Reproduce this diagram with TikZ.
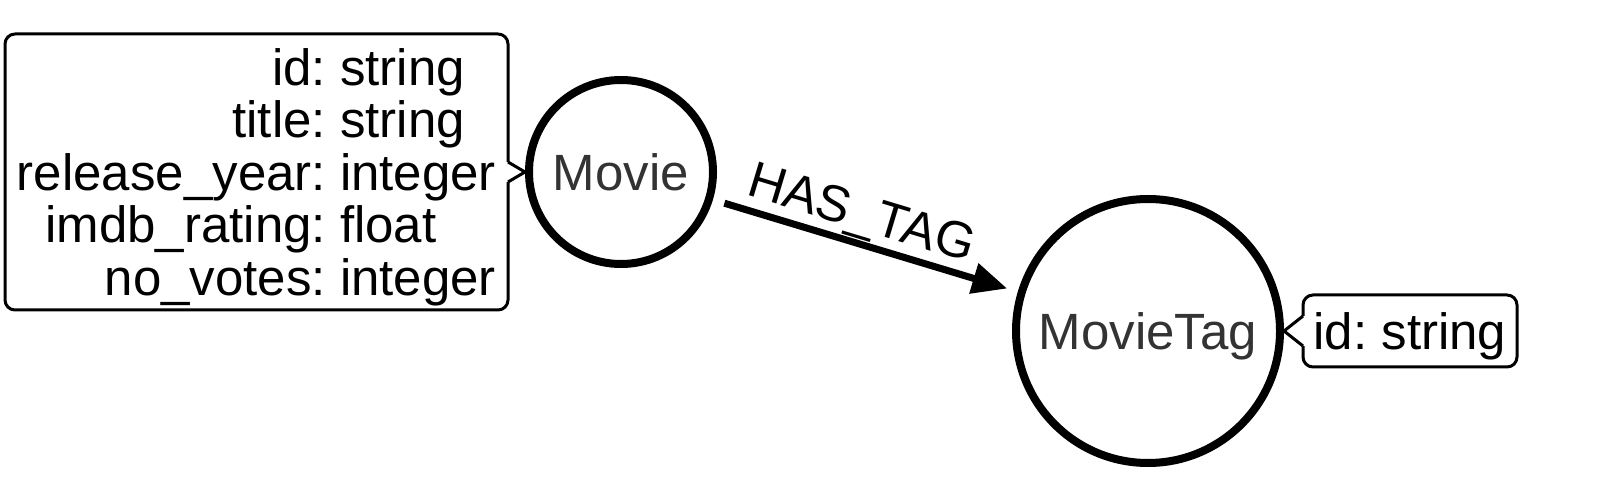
\documentclass[tikz,border=0pt]{standalone}
\usepackage{fontspec}
\setmainfont{Liberation Sans}
\usetikzlibrary{arrows.meta,positioning,calc}
\frenchspacing

\begin{document}
\begin{tikzpicture}[x=0.5pt,y=-0.5pt,
  font=\fontsize{25.5pt}{25.85pt}\selectfont,
  entity/.style={draw,circle,line width=4pt,text=black!80,inner sep=0pt,text depth=0pt},
  props/.style={draw,line width=1.5pt,rounded corners=5pt,inner sep=0pt,outer sep=0pt},
  propline/.style={line width=1.5pt,line join=round}]
  \useasboundingbox (0,0) rectangle (1600,480);
  \node[entity,minimum size=92pt] (movie) at (621,172) {Movie};
  \node[entity,minimum size=132pt] (movieTag) at (1148,331) {MovieTag};
  \node[props,minimum width=251.5pt,minimum height=138pt,text height=18pt,text depth=104.5pt,
    left=8.5pt of movie] (movieProps)
    {\begin{tabular}[t]{@{}r@{:\ }l@{}}
      id & string\\
      title & string\\
      release\_year & integer\\
      imdb\_rating & float\\
      no\_votes & integer
    \end{tabular}};
  \node[props,minimum width=107pt,minimum height=36pt,text depth=0pt,right=9.5pt of movieTag] (tagProps)
    {id: string};
  % pointers from the property boxes
  \fill[white] ($(movieProps.east)+(-2,-10)$) rectangle ($(movieProps.east)+(2,10)$);
  \draw[propline] ($(movieProps.east)+(0,-10)$) -- (movie.west) -- ($(movieProps.east)+(0,10)$);
  \fill[white] ($(tagProps.west)+(-2,-15)$) rectangle ($(tagProps.west)+(2,15)$);
  \draw[propline] ($(tagProps.west)+(0,-15)$) -- (movieTag.east) -- ($(tagProps.west)+(0,15)$);
  % relationship
  \draw[line width=3.5pt,-{Triangle[length=17.5pt,width=15pt]},shorten <=6pt,shorten >=5.5pt]
    (movie) -- node[pos=0.46,sloped,above,inner sep=2pt,outer sep=0pt] (hasTag) {HAS\_TAG} (movieTag);
\end{tikzpicture}
\end{document}
